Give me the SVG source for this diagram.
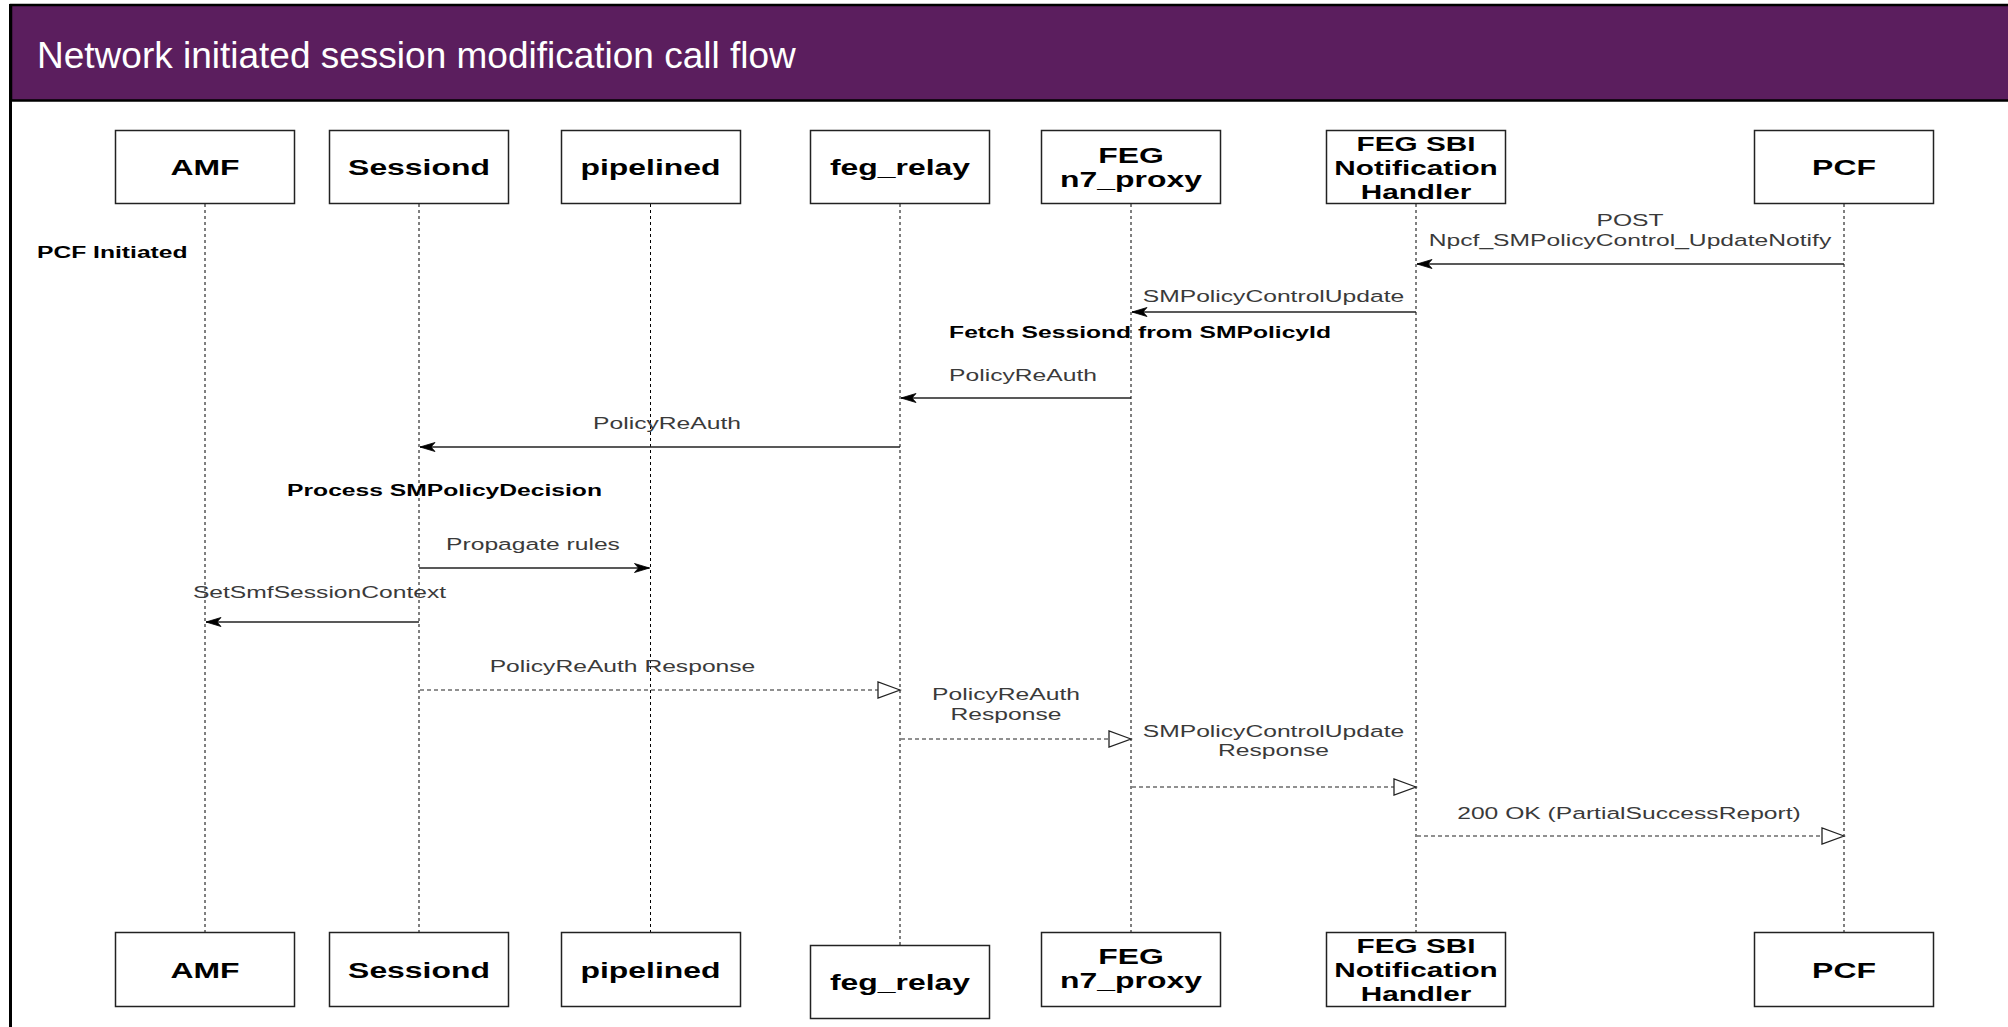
<svg xmlns="http://www.w3.org/2000/svg" width="2008" height="1027" viewBox="0 0 2008 1027">
  <defs>
    <style>
      .hdr { fill: #5b1e5e; stroke: #000; stroke-width: 2.5; }
      .frame { stroke: #000; stroke-width: 3; fill: none; }
      .title { font-family: "Liberation Sans", Arial, sans-serif; font-size: 37px; fill: #fff; }
      .box { fill: #fff; stroke: #222; stroke-width: 1.5; }
      .lbl { font-family: "Liberation Sans", Arial, sans-serif; font-weight: bold; font-size: 22px; fill: #000; text-anchor: middle; }
      .lbl.sm { font-size: 20.5px; }
      .life { stroke: #000; stroke-width: 1; stroke-dasharray: 3 3; fill: none; }
      .call { stroke: #222; stroke-width: 1.5; fill: none; marker-end: url(#classic); }
      .reply { stroke: #222; stroke-width: 1.2; stroke-dasharray: 4 3; fill: none; marker-end: url(#open); }
      .msg { font-family: "Liberation Sans", Arial, sans-serif; font-size: 17px; fill: #3a3a3a; text-anchor: middle; }
      .note { font-family: "Liberation Sans", Arial, sans-serif; font-size: 17px; font-weight: bold; fill: #000; }
      .mid { text-anchor: middle; }
    </style>
    <marker id="classic" viewBox="-16 -6 17 12" refX="0" refY="0" markerWidth="17" markerHeight="12" markerUnits="userSpaceOnUse" orient="auto">
      <path d="M0,0 L-15,-4.5 L-11,0 L-15,4.5 Z" fill="#000" stroke="#000" stroke-width="0.8"/>
    </marker>
    <marker id="open" viewBox="-24 -10 26 20" refX="0" refY="0" markerWidth="26" markerHeight="20" markerUnits="userSpaceOnUse" orient="auto">
      <path d="M0,0 L-22,-8 L-22,8 Z" fill="#fff" stroke="#222" stroke-width="1.3"/>
    </marker>
  </defs>

  <!-- slide frame and title bar -->
  <rect x="0" y="0" width="2008" height="1027" fill="#fff"/>
  <rect class="hdr" x="11" y="5" width="2010" height="95.5"/>
  <line class="frame" x1="10.5" y1="4" x2="10.5" y2="1027"/>
  <text class="title" x="37" y="68">Network initiated session modification call flow</text>

  <!-- lifelines and messages -->
  <g id="connectors">
    <line class="life" x1="205" y1="204" x2="205" y2="932"/>
    <line class="life" x1="419" y1="204" x2="419" y2="932"/>
    <line class="life" x1="650.5" y1="204" x2="650.5" y2="932"/>
    <line class="life" x1="900" y1="204" x2="900" y2="945"/>
    <line class="life" x1="1131" y1="204" x2="1131" y2="932"/>
    <line class="life" x1="1416" y1="204" x2="1416" y2="932"/>
    <line class="life" x1="1844" y1="204" x2="1844" y2="932"/>

    <line class="call" x1="1844" y1="264" x2="1417" y2="264"/>
    <text class="msg" transform="translate(1630,226) scale(1.45,1)">POST</text>
    <text class="msg" transform="translate(1630,246) scale(1.45,1)">Npcf_SMPolicyControl_UpdateNotify</text>

    <line class="call" x1="1416" y1="312" x2="1132" y2="312"/>
    <text class="msg" transform="translate(1273.5,302) scale(1.45,1)">SMPolicyControlUpdate</text>

    <text class="note mid" transform="translate(1140,338) scale(1.45,1)">Fetch Sessiond from SMPolicyId</text>

    <line class="call" x1="1131" y1="398" x2="901" y2="398"/>
    <text class="msg" transform="translate(1023,381) scale(1.45,1)">PolicyReAuth</text>

    <line class="call" x1="900" y1="447" x2="420" y2="447"/>
    <text class="msg" transform="translate(667,429) scale(1.45,1)">PolicyReAuth</text>

    <text class="note mid" transform="translate(444.5,496) scale(1.45,1)">Process SMPolicyDecision</text>

    <line class="call" x1="419" y1="568" x2="649.5" y2="568"/>
    <text class="msg" transform="translate(533,550) scale(1.45,1)">Propagate rules</text>

    <line class="call" x1="419" y1="622" x2="206" y2="622"/>
    <text class="msg" transform="translate(319.5,598) scale(1.45,1)">SetSmfSessionContext</text>

    <line class="reply" x1="420" y1="690" x2="900" y2="690"/>
    <text class="msg" transform="translate(622.5,672) scale(1.45,1)">PolicyReAuth Response</text>

    <line class="reply" x1="901" y1="739" x2="1131" y2="739"/>
    <text class="msg" transform="translate(1006,700) scale(1.45,1)">PolicyReAuth</text>
    <text class="msg" transform="translate(1006,719.5) scale(1.45,1)">Response</text>

    <line class="reply" x1="1132" y1="787" x2="1416" y2="787"/>
    <text class="msg" transform="translate(1273.5,736.5) scale(1.45,1)">SMPolicyControlUpdate</text>
    <text class="msg" transform="translate(1273.5,756) scale(1.45,1)">Response</text>

    <line class="reply" x1="1417" y1="836" x2="1844" y2="836"/>
    <text class="msg" transform="translate(1629,819) scale(1.45,1)">200 OK (PartialSuccessReport)</text>

    <text class="note" transform="translate(37,258) scale(1.45,1)">PCF Initiated</text>
  </g>

  <!-- participants (top) -->
  <g id="amf-top">
    <rect class="box" x="115.5" y="130.5" width="179" height="73"/>
    <text class="lbl" transform="translate(205,175) scale(1.45,1)">AMF</text>
  </g>
  <g id="sessiond-top">
    <rect class="box" x="329.5" y="130.5" width="179" height="73"/>
    <text class="lbl" transform="translate(419,175) scale(1.45,1)">Sessiond</text>
  </g>
  <g id="pipelined-top">
    <rect class="box" x="561.5" y="130.5" width="179" height="73"/>
    <text class="lbl" transform="translate(650.5,175) scale(1.45,1)">pipelined</text>
  </g>
  <g id="feg-relay-top">
    <rect class="box" x="810.5" y="130.5" width="179" height="73"/>
    <text class="lbl" transform="translate(900,175) scale(1.45,1)">feg_relay</text>
  </g>
  <g id="n7-proxy-top">
    <rect class="box" x="1041.5" y="130.5" width="179" height="73"/>
    <text class="lbl" transform="translate(1131,163) scale(1.45,1)">FEG</text>
    <text class="lbl" transform="translate(1131,187) scale(1.45,1)">n7_proxy</text>
  </g>
  <g id="sbi-handler-top">
    <rect class="box" x="1326.5" y="130.5" width="179" height="73"/>
    <text class="lbl sm" transform="translate(1416,151) scale(1.45,1)">FEG SBI</text>
    <text class="lbl sm" transform="translate(1416,175) scale(1.45,1)">Notification</text>
    <text class="lbl sm" transform="translate(1416,199) scale(1.45,1)">Handler</text>
  </g>
  <g id="pcf-top">
    <rect class="box" x="1754.5" y="130.5" width="179" height="73"/>
    <text class="lbl" transform="translate(1844,175) scale(1.45,1)">PCF</text>
  </g>

  <!-- participants (bottom) -->
  <g id="amf-bottom">
    <rect class="box" x="115.5" y="932.5" width="179" height="74"/>
    <text class="lbl" transform="translate(205,977.5) scale(1.45,1)">AMF</text>
  </g>
  <g id="sessiond-bottom">
    <rect class="box" x="329.5" y="932.5" width="179" height="74"/>
    <text class="lbl" transform="translate(419,977.5) scale(1.45,1)">Sessiond</text>
  </g>
  <g id="pipelined-bottom">
    <rect class="box" x="561.5" y="932.5" width="179" height="74"/>
    <text class="lbl" transform="translate(650.5,977.5) scale(1.45,1)">pipelined</text>
  </g>
  <g id="feg-relay-bottom">
    <rect class="box" x="810.5" y="945.5" width="179" height="73"/>
    <text class="lbl" transform="translate(900,990) scale(1.45,1)">feg_relay</text>
  </g>
  <g id="n7-proxy-bottom">
    <rect class="box" x="1041.5" y="932.5" width="179" height="74"/>
    <text class="lbl" transform="translate(1131,964) scale(1.45,1)">FEG</text>
    <text class="lbl" transform="translate(1131,988) scale(1.45,1)">n7_proxy</text>
  </g>
  <g id="sbi-handler-bottom">
    <rect class="box" x="1326.5" y="932.5" width="179" height="74"/>
    <text class="lbl sm" transform="translate(1416,953) scale(1.45,1)">FEG SBI</text>
    <text class="lbl sm" transform="translate(1416,977) scale(1.45,1)">Notification</text>
    <text class="lbl sm" transform="translate(1416,1001) scale(1.45,1)">Handler</text>
  </g>
  <g id="pcf-bottom">
    <rect class="box" x="1754.5" y="932.5" width="179" height="74"/>
    <text class="lbl" transform="translate(1844,977.5) scale(1.45,1)">PCF</text>
  </g>
</svg>
